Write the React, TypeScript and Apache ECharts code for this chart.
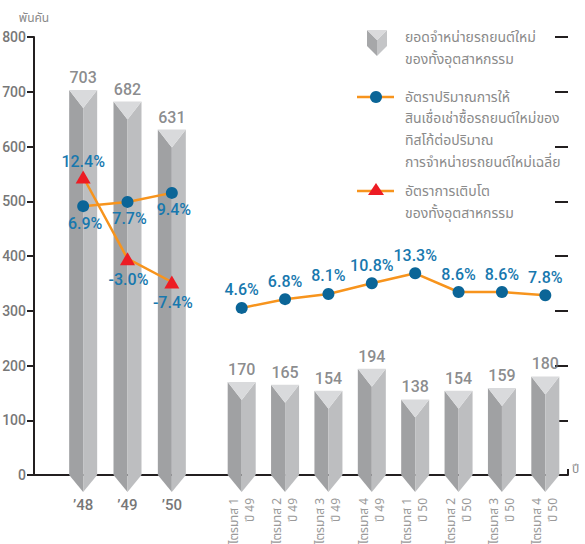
import React, { useEffect, useRef } from 'react';
import * as echarts from 'echarts';

const yearCategories = ['’48', '’49', '’50'];
const yearSales = [703, 682, 631];
const yearTiscoRatio = [6.9, 7.7, 9.4];
const yearGrowth = [12.4, -3.0, -7.4];

const quarterCategories = [
  'ไตรมาส 1\nปี 49', 'ไตรมาส 2\nปี 49', 'ไตรมาส 3\nปี 49', 'ไตรมาส 4\nปี 49',
  'ไตรมาส 1\nปี 50', 'ไตรมาส 2\nปี 50', 'ไตรมาส 3\nปี 50', 'ไตรมาส 4\nปี 50',
];
const quarterSales = [170, 165, 154, 194, 138, 154, 159, 180];
const quarterTiscoRatio = [4.6, 6.8, 8.1, 10.8, 13.3, 8.6, 8.6, 7.8];

const salesAxisMin = 0;
const salesAxisMax = 800;
const salesAxisInterval = 100;
const unitLabel = 'พันคัน';
const xAxisLabel = 'ปี';

const legendSales = ['ยอดจำหน่ายรถยนต์ใหม่', 'ของทั้งอุตสาหกรรม'];
const legendTisco = ['อัตราปริมาณการให้', 'สินเชื่อเช่าซื้อรถยนต์ใหม่ของ', 'ทิสโก้ต่อปริมาณ', 'การจำหน่ายรถยนต์ใหม่เฉลี่ย'];
const legendGrowth = ['อัตราการเติบโต', 'ของทั้งอุตสาหกรรม'];

const NUM_FONT = "'Roboto', 'Liberation Sans', sans-serif";
const THAI_FONT = "'Noto Sans Thai', 'Noto Sans', 'DejaVu Sans', sans-serif";
const ORANGE = '#f7941d';
const BLUE_DOT = '#0b6597';
const BLUE_TXT = '#1878ae';
const RED = '#ed1c24';

const GRID_TOP = 37;
const GRID_BOTTOM = 69;

function prismItem(params: any, api: any) {
  const x = api.value(0);
  const v = api.value(1);
  const top = api.coord([x, v]);
  const base = api.coord([x, 0]);
  const half = 14;
  const cx = top[0];
  const ty = top[1];
  const by = base[1];
  const notch = 18;
  const tip = 17;
  return {
    type: 'group',
    children: [
      { type: 'polygon', shape: { points: [[cx - half, ty], [cx, ty + notch], [cx, by + tip], [cx - half, by]] }, style: { fill: '#a0a1a3' } },
      { type: 'polygon', shape: { points: [[cx, ty + notch], [cx + half, ty], [cx + half, by], [cx, by + tip]] }, style: { fill: '#bdbec0' } },
      { type: 'polygon', shape: { points: [[cx - half, ty], [cx + half, ty], [cx, ty + notch]] }, style: { fill: '#d9dadc' } },
    ],
  };
}

function legendTextLines(lines: string[], x: number, y0: number, step: number) {
  return lines.map((t, i) => ({
    type: 'text',
    x,
    y: y0 + i * step,
    style: { text: t, fill: '#8a8a8a', font: `14px ${THAI_FONT}`, verticalAlign: 'middle', align: 'left' },
  }));
}

export default function App() {
  const ref = useRef<HTMLDivElement>(null);
  useEffect(() => {
    if (!ref.current) return;
    const chart = echarts.init(ref.current, undefined, { renderer: 'svg' });
    const numLabel = { fontFamily: NUM_FONT, fontSize: 16, fontWeight: 500, color: BLUE_TXT };
    const valueLabel = { show: true, position: 'top', distance: 4, fontFamily: NUM_FONT, fontSize: 16, fontWeight: 500, color: '#6d6e70' };
    const option: any = {
      animation: false,
      grid: [
        { left: 34, right: 17, top: GRID_TOP, bottom: GRID_BOTTOM, outerBoundsMode: 'none', containLabel: false },
        { left: 61, width: 133, top: GRID_TOP, bottom: GRID_BOTTOM, outerBoundsMode: 'none', containLabel: false },
        { left: 220, width: 347, top: GRID_TOP, bottom: GRID_BOTTOM, outerBoundsMode: 'none', containLabel: false },
      ],
      xAxis: [
        {
          gridIndex: 0, type: 'value', min: 0, max: 1, interval: 1,
          axisLine: { show: true, lineStyle: { color: '#231f20', width: 2 } },
          axisTick: { show: true, inside: true, length: 6, lineStyle: { color: '#231f20', width: 2 } },
          axisLabel: { show: false }, splitLine: { show: false },
          name: xAxisLabel, nameLocation: 'end', nameGap: 4,
          nameTextStyle: { color: '#8a8a8a', fontSize: 12, fontFamily: THAI_FONT, verticalAlign: 'bottom' },
        },
        {
          gridIndex: 1, type: 'category', data: yearCategories,
          axisLine: { show: false }, axisTick: { show: false },
          axisLabel: { margin: 22, fontSize: 15, fontWeight: 500, color: '#777', fontFamily: NUM_FONT },
        },
        {
          gridIndex: 2, type: 'category', data: quarterCategories,
          axisLine: { show: false }, axisTick: { show: false },
          axisLabel: { margin: 23, rotate: 90, fontSize: 12, lineHeight: 16, color: '#9a9a9a', fontFamily: THAI_FONT, interval: 0 },
        },
      ],
      yAxis: [
        {
          gridIndex: 0, type: 'value', min: salesAxisMin, max: salesAxisMax, interval: salesAxisInterval,
          axisLine: { show: true, lineStyle: { color: '#231f20', width: 2 } },
          axisTick: { show: true, length: 7, lineStyle: { color: '#231f20', width: 2 } },
          axisLabel: { margin: 8, fontSize: 14, fontWeight: 500, color: '#777', fontFamily: NUM_FONT },
          splitLine: { show: false },
          name: unitLabel, nameLocation: 'end', nameGap: 13,
          nameTextStyle: { color: '#8a8a8a', fontSize: 12, fontFamily: THAI_FONT, align: 'center' },
        },
        {
          gridIndex: 0, type: 'value', min: salesAxisMin, max: salesAxisMax, interval: salesAxisInterval,
          axisLine: { show: false },
          axisTick: { show: true, inside: true, length: 13, lineStyle: { color: '#231f20', width: 2 } },
          axisLabel: { show: false }, splitLine: { show: false },
        },
        { gridIndex: 1, type: 'value', min: salesAxisMin, max: salesAxisMax, show: false },
        { gridIndex: 1, type: 'value', min: -43.8, max: 38.8, show: false },
        { gridIndex: 2, type: 'value', min: salesAxisMin, max: salesAxisMax, show: false },
        { gridIndex: 2, type: 'value', min: -37.4, max: 72.7, show: false },
      ],
      series: [
        {
          type: 'custom', name: 'ยอดจำหน่ายรถยนต์ใหม่ของทั้งอุตสาหกรรม', xAxisIndex: 1, yAxisIndex: 2,
          renderItem: prismItem, data: yearSales.map((v, i) => [i, v]),
        },
        {
          type: 'custom', name: 'ยอดจำหน่ายรถยนต์ใหม่ของทั้งอุตสาหกรรม (รายไตรมาส)', xAxisIndex: 2, yAxisIndex: 4,
          renderItem: prismItem, data: quarterSales.map((v, i) => [i, v]),
        },
        {
          type: 'scatter', xAxisIndex: 1, yAxisIndex: 2, symbol: 'rect', symbolSize: 1,
          itemStyle: { color: 'rgba(0,0,0,0)' },
          data: yearSales, label: valueLabel, silent: true,
        },
        {
          type: 'scatter', xAxisIndex: 2, yAxisIndex: 4, symbol: 'rect', symbolSize: 1,
          itemStyle: { color: 'rgba(0,0,0,0)' },
          data: quarterSales, label: valueLabel, silent: true,
        },
        {
          type: 'line', name: 'อัตราการเติบโตของทั้งอุตสาหกรรม', xAxisIndex: 1, yAxisIndex: 3,
          data: yearGrowth.map((v, i) => ({
            value: v,
            label: i === 0
              ? { position: 'top', distance: 1 }
              : { position: 'bottom', distance: 6, offset: [1, 0] },
          })),
          lineStyle: { color: ORANGE, width: 2.5 },
          symbol: 'triangle', symbolSize: [15, 13], itemStyle: { color: RED },
          label: { show: true, ...numLabel, formatter: (p: any) => `${p.value.toFixed(1)}%` },
        },
        {
          type: 'line', name: 'อัตราปริมาณการให้สินเชื่อเช่าซื้อรถยนต์ใหม่ของทิสโก้', xAxisIndex: 1, yAxisIndex: 3,
          data: yearTiscoRatio,
          lineStyle: { color: ORANGE, width: 2.5 },
          symbol: 'circle', symbolSize: 12, itemStyle: { color: BLUE_DOT },
          label: { show: true, position: 'bottom', distance: 3, offset: [2, 0], ...numLabel, formatter: (p: any) => `${p.value.toFixed(1)}%` },
        },
        {
          type: 'line', name: 'อัตราปริมาณการให้สินเชื่อเช่าซื้อรถยนต์ใหม่ของทิสโก้ (รายไตรมาส)', xAxisIndex: 2, yAxisIndex: 5,
          data: quarterTiscoRatio,
          lineStyle: { color: ORANGE, width: 2.5 },
          symbol: 'circle', symbolSize: 12, itemStyle: { color: BLUE_DOT },
          label: { show: true, position: 'top', distance: 4, ...numLabel, formatter: (p: any) => `${p.value.toFixed(1)}%` },
        },
      ],
      graphic: [
        { type: 'polygon', shape: { points: [[367, 30], [377, 40], [377, 56], [367, 46]] }, style: { fill: '#a6a7a9' } },
        { type: 'polygon', shape: { points: [[377, 40], [387, 30], [387, 46], [377, 56]] }, style: { fill: '#c4c5c7' } },
        { type: 'polygon', shape: { points: [[367, 30], [387, 30], [377, 40]] }, style: { fill: '#dadadc' } },
        ...legendTextLines(legendSales, 405, 37, 22),
        { type: 'line', shape: { x1: 357, y1: 97, x2: 394, y2: 97 }, style: { stroke: ORANGE, lineWidth: 2.5 } },
        { type: 'circle', shape: { cx: 376, cy: 97, r: 6 }, style: { fill: BLUE_DOT } },
        ...legendTextLines(legendTisco, 405, 97, 21.7),
        { type: 'line', shape: { x1: 357, y1: 191, x2: 394, y2: 191 }, style: { stroke: ORANGE, lineWidth: 2.5 } },
        { type: 'polygon', shape: { points: [[376, 183], [384, 195], [368, 195]] }, style: { fill: RED } },
        ...legendTextLines(legendGrowth, 405, 191, 22),
      ],
    };
    chart.setOption(option);
    return () => chart.dispose();
  }, []);
  return <div ref={ref} style={{ width: 585, height: 544, position: 'absolute', left: 0, top: 0 }} />;
}
